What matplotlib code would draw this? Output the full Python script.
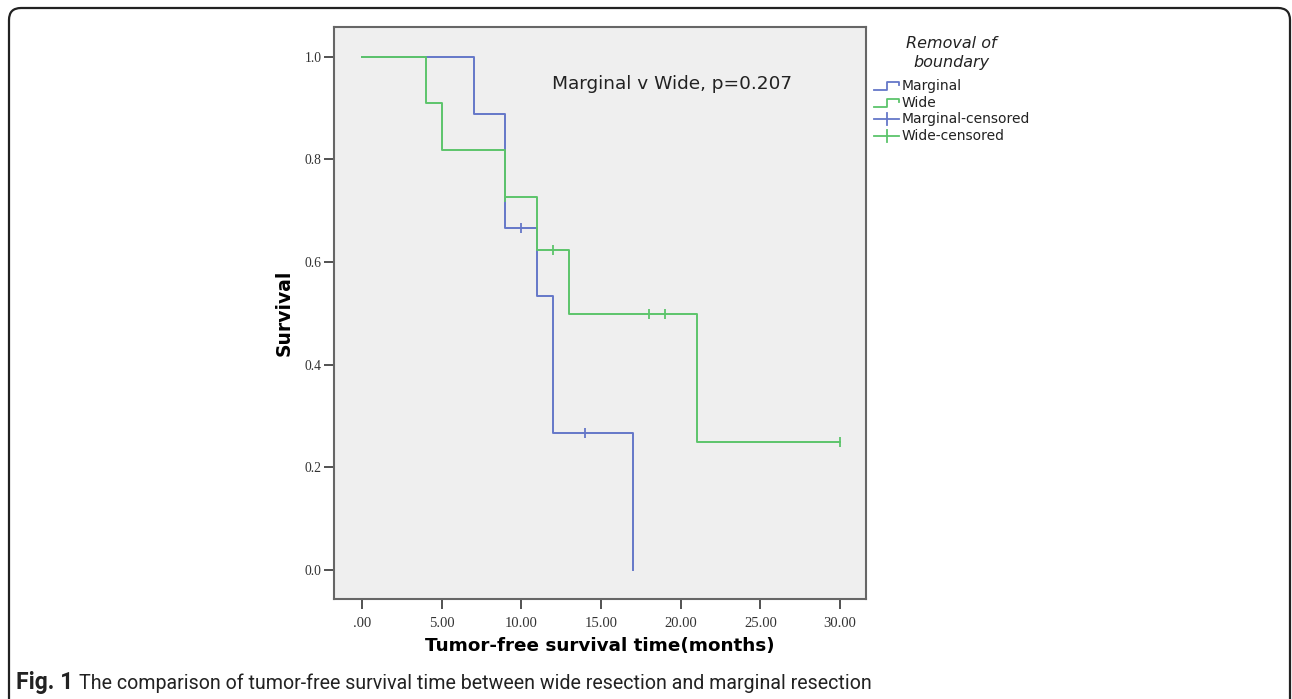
import matplotlib
matplotlib.use('Agg')
import matplotlib.pyplot as plt
from matplotlib.lines import Line2D
from matplotlib.patches import FancyBboxPatch

plt.rcParams['font.family'] = ['DejaVu Sans']

# Kaplan-Meier steps (time, survival after the step)
marginal_t = [0, 7, 9, 11, 12, 17]
marginal_s = [1.0, 0.889, 0.667, 0.533, 0.267, 0.0]
marginal_cens_t = [10, 14]
marginal_cens_s = [0.667, 0.267]

wide_t = [0, 4, 5, 9, 11, 13, 21, 30]
wide_s = [1.0, 0.909, 0.818, 0.727, 0.623, 0.499, 0.249, 0.249]
wide_cens_t = [9, 12, 18, 19, 30]
wide_cens_s = [0.727, 0.623, 0.499, 0.499, 0.249]

xticks = [0, 5, 10, 15, 20, 25, 30]
xticklabels = ['.00', '5.00', '10.00', '15.00', '20.00', '25.00', '30.00']
yticks = [0.0, 0.2, 0.4, 0.6, 0.8, 1.0]

blue = '#6577c8'
green = '#5cc46b'

fig = plt.figure(figsize=(12.92, 6.99), dpi=100)
ax = fig.add_axes([0.2585, 0.1431, 0.4118, 0.8183])
ax.set_facecolor('#efefef')

ax.step(marginal_t, marginal_s, where='post', color=blue, lw=1.4)
ax.step(wide_t, wide_s, where='post', color=green, lw=1.4)
ax.plot(marginal_cens_t, marginal_cens_s, ls='none', marker='|', ms=7, mew=1.3, color=blue)
ax.plot(wide_cens_t, wide_cens_s, ls='none', marker='|', ms=7, mew=1.3, color=green)

ax.set_xlim(-1.76, 31.63)
ax.set_ylim(-0.0565, 1.058)
ax.set_xticks(xticks)
ax.set_xticklabels(xticklabels)
ax.set_yticks(yticks)
ax.set_yticklabels(['%.1f' % v for v in yticks])
ax.tick_params(axis='both', direction='out', length=7, width=1.2, color='#333333',
               labelcolor='#333333')
ax.tick_params(axis='x', pad=6, labelsize=10.5)
ax.tick_params(axis='y', pad=2, labelsize=9.8)
for lab in ax.get_xticklabels() + ax.get_yticklabels():
    lab.set_family('Liberation Serif')
for sp in ax.spines.values():
    sp.set_color('#666666')
    sp.set_linewidth(1.5)

ax.set_xlabel('Tumor-free survival time(months)', fontsize=13.2, fontweight='bold', labelpad=5)
ax.set_ylabel('Survival', fontsize=13.5, fontweight='bold', labelpad=8)
ax.text(0.410, 0.9, 'Marginal v Wide, p=0.207', transform=ax.transAxes,
        fontsize=13.3, color='#222222', ha='left', va='center')

# legend drawn by hand (step handles like SPSS)
px = lambda x, y: (x / 1292, 1 - y / 699)
fig.text(*px(951, 44), 'Removal of', ha='center', va='center', style='italic', fontsize=11.5,
         color='#222222')
fig.text(*px(951, 62), 'boundary', ha='center', va='center', style='italic', fontsize=11.5,
         color='#222222')
entries = [('Marginal', blue, 'step', 86), ('Wide', green, 'step', 103),
           ('Marginal-censored', blue, 'cens', 119), ('Wide-censored', green, 'cens', 136)]
for name, col, kind, yy in entries:
    if kind == 'step':
        xs = [874, 887, 887, 899, 899]
        ys = [yy + 4, yy + 4, yy - 4, yy - 4, yy - 1]
    else:
        xs = [874, 899]
        ys = [yy, yy]
    fig.add_artist(Line2D([x / 1292 for x in xs], [1 - y / 699 for y in ys],
                          transform=fig.transFigure, color=col, lw=1.3))
    if kind == 'cens':
        fig.add_artist(Line2D([887 / 1292] * 2, [1 - (yy - 6) / 699, 1 - (yy + 6) / 699],
                              transform=fig.transFigure, color=col, lw=1.3))
    fig.text(*px(902, yy), name, ha='left', va='center', fontsize=10, color='#222222')

# rounded frame around the figure panel
frame = FancyBboxPatch((0.09, -0.2), 12.81, 7.11,
                       boxstyle='round,pad=0,rounding_size=0.12',
                       transform=fig.dpi_scale_trans, fill=False,
                       edgecolor='#222222', lw=1.6)
fig.add_artist(frame)

fig.text(16 / 1292, 1 - 683 / 699, 'Fig. 1', fontsize=16.5, fontweight='bold',
         family='Roboto', va='center', color='#222222')
fig.text(79 / 1292, 1 - 683 / 699,
         'The comparison of tumor-free survival time between wide resection and marginal resection',
         fontsize=14.1, family='Roboto', va='center', color='#222222')

fig.savefig('out.png', dpi=100)
